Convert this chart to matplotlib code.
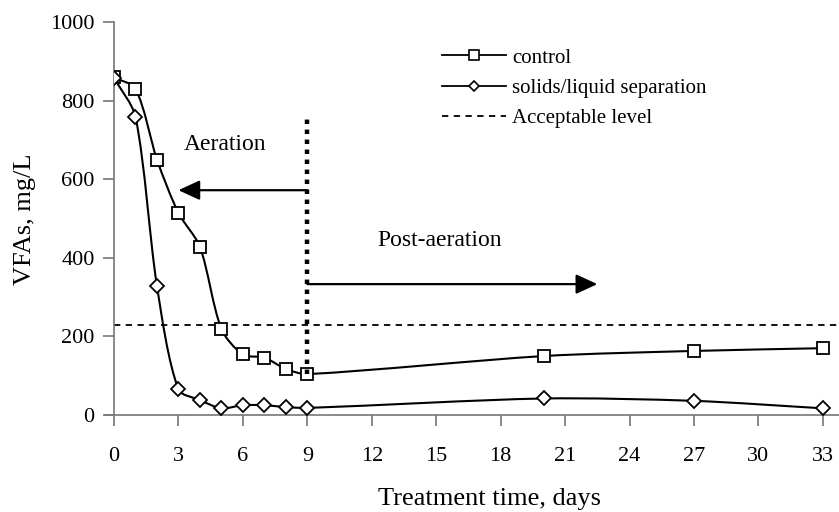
import numpy as np
import matplotlib
matplotlib.use("Agg")
import matplotlib.pyplot as plt
from matplotlib.path import Path
from matplotlib.patches import PathPatch
from matplotlib.lines import Line2D

# Treatment days and VFA concentrations (mg/L)
days = [0, 1, 2, 3, 4, 5, 6, 7, 8, 9, 20, 27, 33]
control = [859, 830, 650, 514, 428, 219, 154, 146, 117, 104, 150, 163, 170]
separation = [858, 759, 328, 65, 38, 17, 25, 25, 20, 18, 42, 36, 17]
acceptable_level = 228

x_ticks = [0, 3, 6, 9, 12, 15, 18, 21, 24, 27, 30, 33]
y_ticks = [0, 200, 400, 600, 800, 1000]

aeration_end = 9
aeration_arrow = (9, 572, 3)        # from day, at level, to day
post_arrow = (9, 333, 22.5)

plt.rcParams["font.family"] = ["Liberation Serif", "DejaVu Serif"]

W, H = 839, 512
fig = plt.figure(figsize=(W / 100, H / 100), dpi=100)
ax_left, ax_bottom, ax_top = 114, 415, 22
ax = fig.add_axes([ax_left / W, 1 - ax_bottom / H, 1 - ax_left / W,
                   (ax_bottom - ax_top) / H])
XMAX, YMAX = 33.75, 1000
# pixels per data unit, used so the curve smoothing is done in screen space
sx = (W - ax_left) / XMAX
sy = (ax_bottom - ax_top) / YMAX


def smooth_path(xs, ys, k=0.28):
    """Smoothed Bezier path through the points (tangent-scaled handles)."""
    pts = np.column_stack([np.asarray(xs) * sx, np.asarray(ys) * sy]).astype(float)
    n = len(pts)
    tang = []
    for i in range(n):
        a = pts[max(i - 1, 0)]
        b = pts[min(i + 1, n - 1)]
        d = b - a
        tang.append(d / np.hypot(*d))
    verts = [pts[0]]
    codes = [Path.MOVETO]
    for i in range(n - 1):
        seg = np.hypot(*(pts[i + 1] - pts[i]))
        c1 = pts[i] + tang[i] * seg * k
        c2 = pts[i + 1] - tang[i + 1] * seg * k
        verts += [c1, c2, pts[i + 1]]
        codes += [Path.CURVE4] * 3
    verts = np.array(verts) / np.array([sx, sy])
    return Path(verts, codes)


for ys, marker, ms in [(control, "s", 9), (separation, "D", 7.5)]:
    ax.add_patch(PathPatch(smooth_path(days, ys), facecolor="none",
                           edgecolor="black", lw=1.5, zorder=3))
    ax.plot(days, ys, linestyle="none", marker=marker, ms=ms,
            mfc="white", mec="black", mew=1.3, zorder=4)

# Acceptable level
ax.axhline(acceptable_level, color="black", lw=1.3,
           linestyle=(0, (3.5, 3)), zorder=2)

# End of aeration marker
ax.plot([aeration_end, aeration_end], [control[days.index(aeration_end)], 754],
        color="black", lw=3.2, linestyle=(0, (1, 1.25)),
        solid_capstyle="butt", dash_capstyle="butt", zorder=5)

arrow_style = dict(arrowstyle="-|>,head_length=1.3,head_width=0.6",
                   mutation_scale=10, lw=1.6, color="black",
                   shrinkA=0, shrinkB=0)
ax.annotate("", xy=(aeration_arrow[2], aeration_arrow[1]),
            xytext=(aeration_arrow[0], aeration_arrow[1]),
            arrowprops=arrow_style, zorder=5)
ax.annotate("", xy=(post_arrow[2], post_arrow[1]),
            xytext=(post_arrow[0], post_arrow[1]),
            arrowprops=arrow_style, zorder=5)

ax.text(5.15, 689, "Aeration", fontsize=17, ha="center", va="center")
ax.text(15.15, 445, "Post-aeration", fontsize=17, ha="center", va="center")

ax.set_xlim(0, XMAX)
ax.set_ylim(0, YMAX)
ax.set_xticks(x_ticks)
ax.set_yticks(y_ticks)
ax.tick_params(axis="both", direction="out", length=8, width=1.2,
               color="#777777", labelsize=16, pad=6)
ax.tick_params(axis="x", pad=15)
for side in ["top", "right"]:
    ax.spines[side].set_visible(False)
for side in ["left", "bottom"]:
    ax.spines[side].set_color("#777777")
    ax.spines[side].set_linewidth(1.2)
ax.spines["bottom"].set_bounds(-0.4, XMAX)
ax.spines["bottom"].set_clip_on(False)

ax.set_xlabel("Treatment time, days", fontsize=19)
ax.xaxis.set_label_coords((489 - ax_left) / (W - ax_left),
                          -(505 - ax_bottom) / (ax_bottom - ax_top),
                          transform=ax.transAxes)
ax.xaxis.label.set_va("baseline")
ax.set_ylabel("VFAs, mg/L", fontsize=19)
ax.yaxis.set_label_coords(-(ax_left - 25) / (W - ax_left),
                          (ax_bottom - 219) / (ax_bottom - ax_top),
                          transform=ax.transAxes)
ax.yaxis.label.set_va("center")

handles = [
    Line2D([], [], color="black", lw=1.3, marker="s", ms=6.5,
           mfc="white", mec="black", mew=1.2),
    Line2D([], [], color="black", lw=1.3, marker="D", ms=5.5,
           mfc="white", mec="black", mew=1.2),
    Line2D([], [], color="black", lw=1.3, linestyle=(0, (3.5, 3))),
]
ax.legend(handles, ["control", "solids/liquid separation", "Acceptable level"],
          loc="upper left", bbox_to_anchor=(442 / W, 1 - 48 / H),
          bbox_transform=fig.transFigure, frameon=False, fontsize=15,
          handlelength=3.05, handletextpad=0.3, labelspacing=0.52,
          borderpad=0, borderaxespad=0)

fig.savefig("out.png", dpi=100)
